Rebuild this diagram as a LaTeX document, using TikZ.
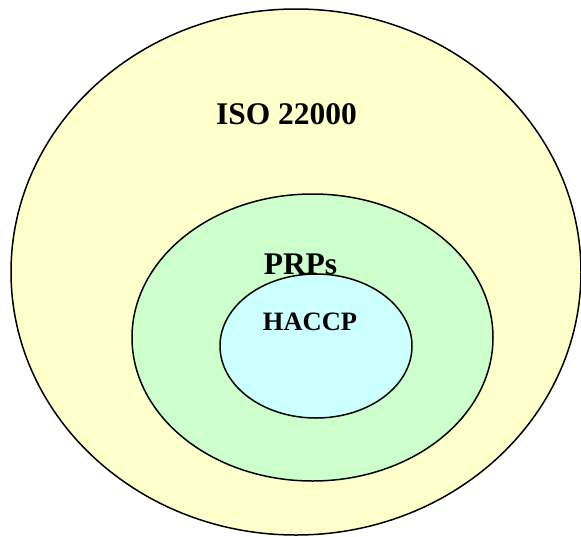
\documentclass[tikz,border=0pt]{standalone}
\usepackage{fontspec}
\setmainfont{Liberation Serif}
\usetikzlibrary{shapes.geometric}
\definecolor{isoY}{HTML}{FFFFCC}
\definecolor{prpG}{HTML}{CCFFCC}
\definecolor{hacC}{HTML}{CCFFFF}
\tikzset{
  ring/.style={ellipse, draw=black, line width=1.5pt, inner sep=0pt, outer sep=0pt},
  lbl/.style={anchor=base, font=\bfseries, inner sep=0pt}
}
\begin{document}
\begin{tikzpicture}[x=1pt,y=-1pt]
\useasboundingbox (0,0) rectangle (581,536);
\node[ring, fill=isoY, minimum width=570pt, minimum height=526pt] (iso) at (296,272) {};
\node[ring, fill=prpG, minimum width=361pt, minimum height=287pt] (prp) at (312.5,337.5) {};
\node[ring, fill=hacC, minimum width=192pt, minimum height=144pt] (haccp) at (316,346) {};
\node[lbl, font=\fontsize{31.5}{36}\selectfont\bfseries] (isot) at (286.5,124) {ISO 22000};
\node[lbl, font=\fontsize{31.5}{36}\selectfont\bfseries] (prpt) at (300.5,274) {PRPs};
\node[lbl, font=\fontsize{26.5}{30}\selectfont\bfseries] (hacct) at (310,330) {HACCP};
\end{tikzpicture}
\end{document}
